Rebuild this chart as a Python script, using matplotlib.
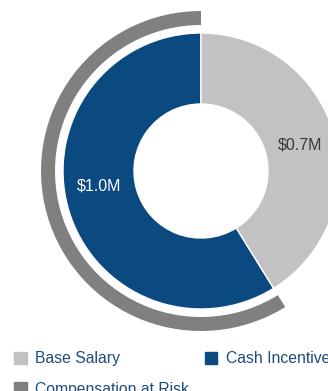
import matplotlib.pyplot as plt
from matplotlib.patches import Patch

plt.rcParams['font.family'] = ['Liberation Sans', 'DejaVu Sans']

# compensation mix
labels = ['Cash Incentive', 'Base Salary']
values = [1.0, 0.7]
value_labels = ['$1.0M', '$0.7M']
colors = ['#0b4a80', '#c2c2c2']
risk_color = '#808080'
legend_labels = ['Base Salary', 'Compensation at Risk', 'Cash Incentive']

W, H = 328, 391
fig = plt.figure(figsize=(W / 100, H / 100), dpi=100)
ax = fig.add_axes([0, 0, 1, 1])

cx, cy = 201, H - 171

# inner donut
ax.pie(values, colors=colors, startangle=90, counterclock=True,
       radius=138, center=(cx, cy),
       wedgeprops=dict(width=71, edgecolor='white', linewidth=1))

# outer arc: compensation at risk (the incentive part)
ax.pie(values, colors=[risk_color, 'none'], startangle=90, counterclock=True,
       radius=160, center=(cx, cy),
       wedgeprops=dict(width=14, linewidth=0))

ax.set_xlim(0, W)
ax.set_ylim(0, H)
ax.set_aspect('auto')
ax.axis('off')

ax.text(cx - 102, cy - 15, value_labels[0], color='white', fontsize=11.5,
        ha='center', va='center')
ax.text(cx + 99, cy + 26, value_labels[1], color='#3a3a3a', fontsize=11.5,
        ha='center', va='center')

# legend is filled column-wise, so order is Base / Risk | Cash
handles = [Patch(color=colors[1]), Patch(color=risk_color), Patch(color=colors[0])]
leg = fig.legend(handles, legend_labels, ncol=2, frameon=False,
                 loc='upper left', bbox_to_anchor=(0 / W, 1 - 337 / H),
                 fontsize=11.3, handlelength=0.8, handleheight=0.8,
                 handletextpad=0.55, columnspacing=1.0, labelspacing=1.0)
for t in leg.get_texts():
    t.set_color('#1f4a7c')

fig.savefig('out.png', dpi=100)
